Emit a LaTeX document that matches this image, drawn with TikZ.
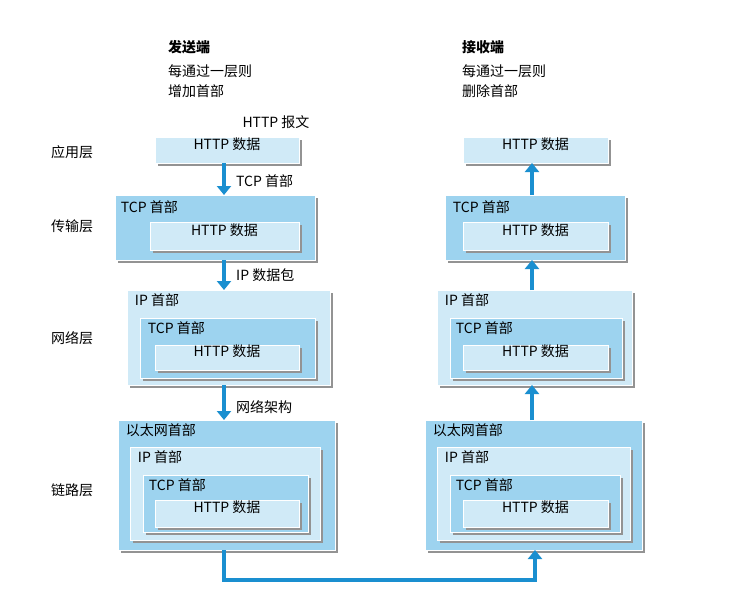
\documentclass[tikz,border=0pt]{standalone}
\usepackage{fontspec}
\setmainfont{Noto Sans CJK SC}
\usetikzlibrary{positioning,fit,shadows,arrows.meta}
\definecolor{midblue}{HTML}{9DD3EF}
\definecolor{lightblue}{HTML}{D0EAF7}
\definecolor{arrowblue}{HTML}{1A8FD0}
\tikzset{
  box/.style={inner sep=0pt,draw=white,line width=0.6pt,
    drop shadow={shadow xshift=3pt,shadow yshift=-3pt,fill=gray!85,opacity=1}},
  mid/.style={box,fill=midblue},
  light/.style={box,fill=lightblue},
  head/.style={anchor=north west,inner sep=0pt},
  flow/.style={arrowblue,line width=4pt,-{Triangle[length=9pt,width=14pt]}},
  lbl/.style={anchor=west,inner sep=0pt}
}
\begin{document}
\begin{tikzpicture}[x=1pt,y=-1pt,font=\fontsize{14}{20}\selectfont]
\useasboundingbox (0,0) rectangle (731,595);
% titles
\node[head,font=\fontsize{14}{20}\selectfont\bfseries] (st) at (168,40) {发送端};
\node[head,align=left] (sd) at (168,64) {每通过一层则\\增加首部};
\node[head,font=\fontsize{14}{20}\selectfont\bfseries] (rt) at (462,40) {接收端};
\node[head,align=left] (rd) at (462,64) {每通过一层则\\删除首部};
\node (msg) at (276,122) {HTTP 报文};
% layer names
\node (l1) at (72,152) {应用层};
\node (l2) at (72,226) {传输层};
\node (l3) at (72,338) {网络层};
\node (l4) at (72,490) {链路层};
% sender side
\node[light,fit={(155,137)(299,163)}] (sa) {HTTP 数据};
\node[mid,fit={(115,195)(315,260)}] (st1) {};
\node[head] at ([shift={(6,6)}]st1.north west) {TCP 首部};
\node[light,fit={(150,222)(299,250)}] (st2) {HTTP 数据};
\node[light,fit={(127,290)(330,385)}] (sn1) {};
\node[head] at ([shift={(8,4)}]sn1.north west) {IP 首部};
\node[mid,fit={(140,318)(315,378)}] (sn2) {};
\node[head] at ([shift={(8,4)}]sn2.north west) {TCP 首部};
\node[light,fit={(155,345)(299,370)}] (sn3) {HTTP 数据};
\node[mid,fit={(118,420)(335,550)}] (sl1) {};
\node[head] at ([shift={(8,4)}]sl1.north west) {以太网首部};
\node[light,fit={(130,447)(320,540)}] (sl2) {};
\node[head] at ([shift={(8,4)}]sl2.north west) {IP 首部};
\node[mid,fit={(143,475)(308,532)}] (sl3) {};
\node[head] at ([shift={(6,4)}]sl3.north west) {TCP 首部};
\node[light,fit={(155,500)(299,527)}] (sl4) {HTTP 数据};
% receiver side
\node[light,fit={(463,137)(608,163)}] (ra) {HTTP 数据};
\node[mid,fit={(445,195)(625,260)}] (rt1) {};
\node[head] at ([shift={(8,6)}]rt1.north west) {TCP 首部};
\node[light,fit={(463,222)(608,250)}] (rt2) {HTTP 数据};
\node[light,fit={(437,290)(632,385)}] (rn1) {};
\node[head] at ([shift={(8,4)}]rn1.north west) {IP 首部};
\node[mid,fit={(450,318)(622,378)}] (rn2) {};
\node[head] at ([shift={(6,4)}]rn2.north west) {TCP 首部};
\node[light,fit={(463,345)(608,370)}] (rn3) {HTTP 数据};
\node[mid,fit={(425,420)(642,550)}] (rl1) {};
\node[head] at ([shift={(8,4)}]rl1.north west) {以太网首部};
\node[light,fit={(437,447)(630,540)}] (rl2) {};
\node[head] at ([shift={(8,4)}]rl2.north west) {IP 首部};
\node[mid,fit={(450,475)(620,532)}] (rl3) {};
\node[head] at ([shift={(6,4)}]rl3.north west) {TCP 首部};
\node[light,fit={(463,500)(608,527)}] (rl4) {HTTP 数据};
% arrows
\draw[flow] (224,163) -- (224,195);
\draw[flow] (224,260) -- (224,290);
\draw[flow] (224,385) -- (224,420);
\draw[flow] (532,195) -- (532,163);
\draw[flow] (532,290) -- (532,260);
\draw[flow] (532,420) -- (532,385);
\draw[flow] (224,550) -- (224,580) -- (535,580) -- (535,550);
\node[lbl] (a1) at (236,181) {TCP 首部};
\node[lbl] (a2) at (236,275) {IP 数据包};
\node[lbl] (a3) at (236,407) {网络架构};
\end{tikzpicture}
\end{document}
